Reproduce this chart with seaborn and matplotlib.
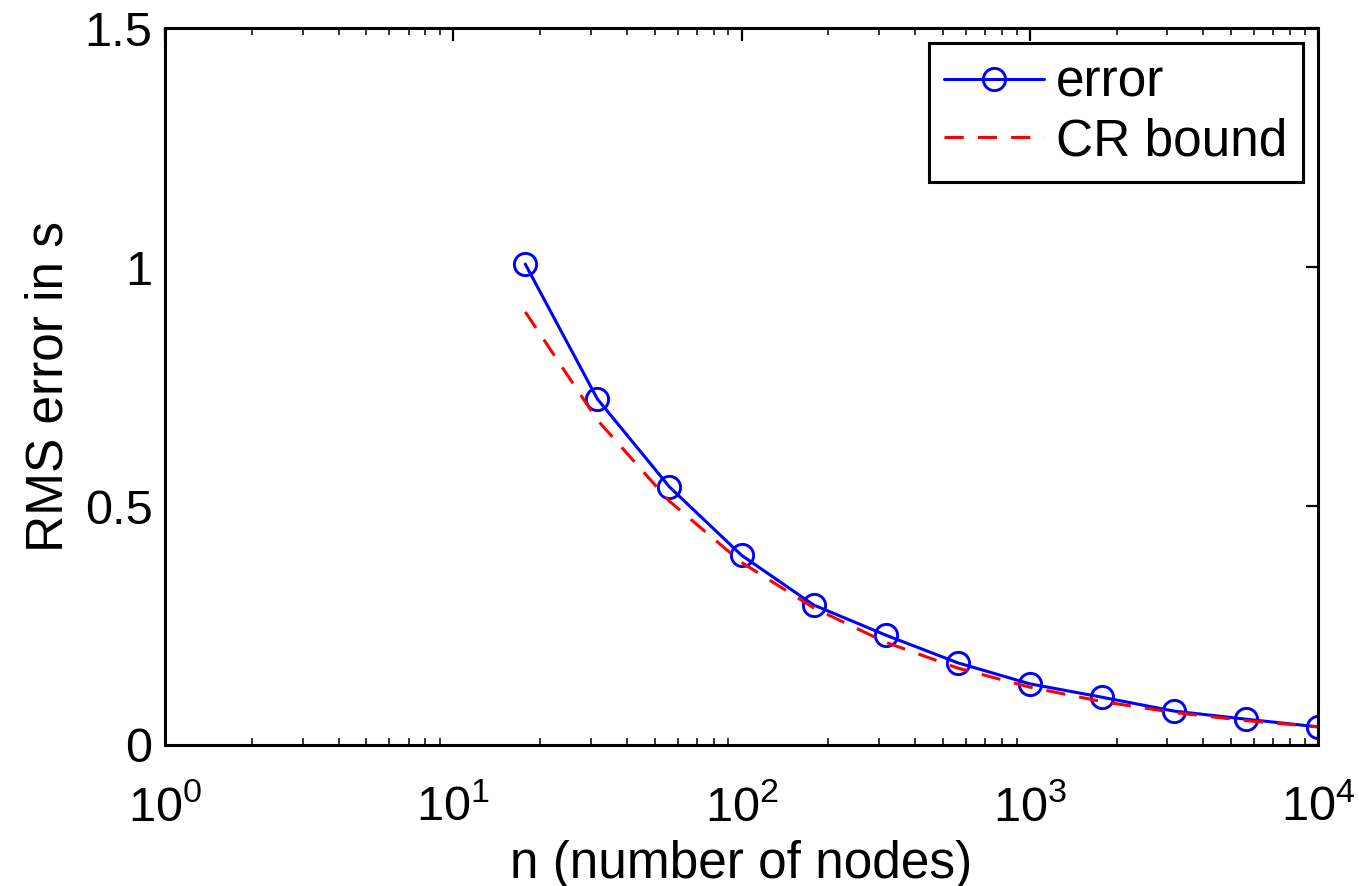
import numpy as np
import pandas as pd
import matplotlib
matplotlib.use("Agg")
import matplotlib.pyplot as plt
import seaborn as sns

n_nodes = [17.78, 31.62, 56.23, 100.0, 177.8, 316.2, 562.3, 1000.0, 1778.0, 3162.0, 5623.0, 10000.0]
rms_error = [1.006, 0.724, 0.540, 0.397, 0.293, 0.230, 0.172, 0.128, 0.100, 0.071, 0.054, 0.038]
cr_bound = [0.906, 0.680, 0.510, 0.382, 0.287, 0.215, 0.161, 0.121, 0.091, 0.068, 0.051, 0.038]

sns.set_theme(style="white")
plt.rcParams['font.family'] = ['Liberation Sans', 'DejaVu Sans']
plt.rcParams['mathtext.fontset'] = 'custom'
plt.rcParams['mathtext.rm'] = 'Liberation Sans'
plt.rcParams['mathtext.it'] = 'Liberation Sans'
plt.rcParams['text.color'] = 'black'
plt.rcParams['axes.labelcolor'] = 'black'

df = pd.DataFrame({"n": n_nodes, "error": rms_error, "cr": cr_bound})

fig = plt.figure(figsize=(13.59, 8.86), dpi=100)
ax = fig.add_axes([165/1359, 1-745/886, (1318-165)/1359, (745-28)/886])

sns.lineplot(data=df, x="n", y="error", ax=ax, color="blue", lw=2.2,
             marker="o", markersize=16, markerfacecolor="none",
             markeredgecolor="blue", markeredgewidth=2.1, label="error")
sns.lineplot(data=df, x="n", y="cr", ax=ax, color="red", lw=2.2,
             linestyle=(0, (6.3, 4.6)), label="CR bound")

ax.set_xscale("log")
ax.set_xlim(1, 1e4)
ax.set_ylim(0, 1.5)
ax.set_yticks([0, 0.5, 1, 1.5])
ax.set_yticklabels(["0", "0.5", "1", "1.5"])
ax.set_xticks([1, 10, 100, 1000, 10000])
ax.set_xticklabels([r"$10^0$", r"$10^1$", r"$10^2$", r"$10^3$", r"$10^4$"])
ax.xaxis.set_minor_locator(matplotlib.ticker.LogLocator(base=10, subs=np.arange(2, 10)))
ax.xaxis.set_minor_formatter(matplotlib.ticker.NullFormatter())

ax.tick_params(axis="both", which="major", direction="in", length=9, width=1.6,
               top=True, right=True, labelsize=35, colors="black")
ax.tick_params(axis="y", which="major", pad=9)
ax.tick_params(axis="x", which="major", pad=29)
ax.tick_params(axis="x", which="minor", direction="in", length=5, width=1.3,
               top=True, bottom=True)
for s in ax.spines.values():
    s.set_visible(True)
    s.set_color("black")
    s.set_linewidth(2.2)

ax.set_xlabel("n (number of nodes)", fontsize=37, color="black", labelpad=6)
ax.set_ylabel("RMS error in s", fontsize=37, color="black", labelpad=8)

leg = ax.legend(loc="upper right", fontsize=37, frameon=True, fancybox=False,
                edgecolor="black", handlelength=1.95, handletextpad=0.22,
                borderpad=0.3, labelspacing=0.18, borderaxespad=0.3)
leg.get_frame().set_linewidth(2.2)
leg.get_frame().set_alpha(1)
for t in leg.get_texts():
    t.set_color("black")

fig.savefig("out.png", dpi=100, facecolor="white")
